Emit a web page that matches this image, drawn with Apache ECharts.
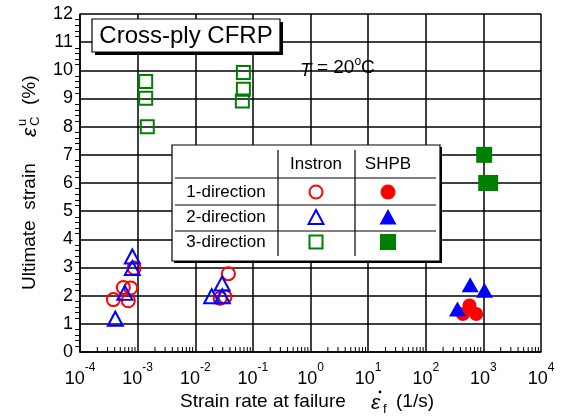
<!DOCTYPE html>
<html>
<head>
<meta charset="utf-8">
<script src="https://cdn.jsdelivr.net/npm/echarts@6/dist/echarts.min.js"></script>
<style>
html, body { margin: 0; padding: 0; background: #fff; }
#chart { width: 564px; height: 418px; }
</style>
</head>
<body>
<div id="chart"></div>
<script>
// Ultimate strain of cross-ply CFRP against strain rate at failure (T = 20 °C)
// Each point: [strain rate (1/s), ultimate strain (%)]
const instron1 = [[3.8e-4, 1.86], [6.9e-4, 1.82], [5.65e-4, 2.29], [7.6e-4, 2.27], [8.7e-4, 2.98],
                  [0.0376, 2.78], [0.027, 1.91], [0.0329, 1.96]];
const instron2 = [[8.1e-4, 3.39], [8.1e-4, 2.98], [6.0e-4, 2.10], [4.1e-4, 1.18],
                  [0.0292, 2.43], [0.0193, 1.98], [0.0295, 1.98]];
const instron3 = [[1.38e-3, 9.6], [1.38e-3, 9.01], [1.47e-3, 8.0],
                  [0.0684, 9.92], [0.0684, 9.33], [0.0657, 8.91]];
const shpb1 = [[574, 1.65], [441, 1.35], [750, 1.35]];
const shpb2 = [[590, 2.39], [1045, 2.19], [355, 1.53]];
const shpb3 = [[1033, 7.0], [1120, 6.0], [1310, 6.0]];

const legendRows = ['1-direction', '2-direction', '3-direction'];
const legendCols = ['Instron', 'SHPB'];

const RED = '#ff0000', BLUE = '#0000ff', GREEN = '#008000';
const FONT = 'Liberation Sans, Arial, sans-serif';

// Log-decade minor tick positions (2..9 x 10^k) along the rate axis
const xMinor = [];
for (let e = -4; e < 4; e++) {
  for (let m = 2; m <= 9; m++) xMinor.push([m * Math.pow(10, e), 0]);
}

function scatter(data, symbol, color, size, filled, z) {
  return {
    type: 'scatter',
    data: data,
    symbol: symbol,
    symbolSize: size,
    z: z,
    itemStyle: filled
      ? { color: color, opacity: 1 }
      : { color: 'rgba(0,0,0,0)', borderColor: color, borderWidth: 2, opacity: 1 },
    emphasis: { disabled: true }
  };
}

const chart = echarts.init(document.getElementById('chart'), null, { renderer: 'canvas' });

// Legend table geometry
const tbl = { x: 172, y: 145, w: 268, h: 116 };
const colX = [316, 388];
const rowY = [192, 217, 242];

const legendGraphics = [
  { type: 'rect', shape: { x: tbl.x + 2, y: tbl.y + 2, width: tbl.w, height: tbl.h },
    style: { fill: '#000' }, z: 100 },
  { type: 'rect', shape: { x: tbl.x, y: tbl.y, width: tbl.w, height: tbl.h },
    style: { fill: '#fff', stroke: '#000', lineWidth: 1.2 }, z: 101 },
  { type: 'line', shape: { x1: 278, y1: 150, x2: 278, y2: 256 }, style: { stroke: '#000', lineWidth: 1.2 }, z: 102 },
  { type: 'line', shape: { x1: 355, y1: 150, x2: 355, y2: 256 }, style: { stroke: '#000', lineWidth: 1.2 }, z: 102 },
  { type: 'line', shape: { x1: 175, y1: 178, x2: 436, y2: 178 }, style: { stroke: '#000', lineWidth: 1.2 }, z: 102 },
  { type: 'line', shape: { x1: 175, y1: 205, x2: 436, y2: 205 }, style: { stroke: '#000', lineWidth: 1.2 }, z: 102 },
  { type: 'line', shape: { x1: 175, y1: 231, x2: 436, y2: 231 }, style: { stroke: '#000', lineWidth: 1.2 }, z: 102 }
];
legendCols.forEach(function (t, i) {
  legendGraphics.push({ type: 'text', x: colX[i], y: 164, z: 103,
    style: { text: t, font: '17px ' + FONT, fill: '#000', align: 'center', verticalAlign: 'middle' } });
});
legendRows.forEach(function (t, i) {
  legendGraphics.push({ type: 'text', x: 226, y: rowY[i], z: 103,
    style: { text: t, font: '17px ' + FONT, fill: '#000', align: 'center', verticalAlign: 'middle' } });
});
// Legend symbols
const r = 6.5;
legendGraphics.push(
  { type: 'circle', shape: { cx: colX[0], cy: rowY[0], r: r }, style: { fill: 'none', stroke: RED, lineWidth: 2 }, z: 103 },
  { type: 'circle', shape: { cx: colX[1], cy: rowY[0], r: r + 1 }, style: { fill: RED }, z: 103 },
  { type: 'polygon', shape: { points: [[colX[0], rowY[1] - 7], [colX[0] + 7.5, rowY[1] + 7], [colX[0] - 7.5, rowY[1] + 7]] },
    style: { fill: 'none', stroke: BLUE, lineWidth: 2 }, z: 103 },
  { type: 'polygon', shape: { points: [[colX[1], rowY[1] - 8], [colX[1] + 8.5, rowY[1] + 7.5], [colX[1] - 8.5, rowY[1] + 7.5]] },
    style: { fill: BLUE }, z: 103 },
  { type: 'rect', shape: { x: colX[0] - 6.5, y: rowY[2] - 6.5, width: 13, height: 13 }, style: { fill: 'none', stroke: GREEN, lineWidth: 2 }, z: 103 },
  { type: 'rect', shape: { x: colX[1] - 8, y: rowY[2] - 8, width: 16, height: 16 }, style: { fill: GREEN }, z: 103 }
);

const option = {
  backgroundColor: '#fff',
  animation: false,
  grid: { left: 80, right: 23, top: 14, bottom: 66, containLabel: false },
  xAxis: {
    type: 'log',
    logBase: 10,
    min: 1e-4,
    max: 1e4,
    interval: 1,
    axisLine: { lineStyle: { color: '#000', width: 1.5 } },
    axisTick: { show: false },
    splitLine: { show: true, lineStyle: { color: '#000', width: 1.5 } },
    axisLabel: {
      margin: 10,
      formatter: function (v) {
        const e = Math.round(Math.log10(v));
        return '{b|10}{s|' + e + '}';
      },
      rich: {
        b: { fontSize: 18, fontFamily: FONT, color: '#000', lineHeight: 26, verticalAlign: 'bottom' },
        s: { fontSize: 12, fontFamily: FONT, color: '#000', lineHeight: 26, verticalAlign: 'top' }
      }
    }
  },
  yAxis: {
    type: 'value',
    min: 0,
    max: 12,
    interval: 1,
    axisLine: { show: true, lineStyle: { color: '#000', width: 1.5 } },
    axisTick: { show: false },
    minorTick: { show: true, splitNumber: 5, length: 5, lineStyle: { color: '#000', width: 1 } },
    splitLine: { show: true, lineStyle: { color: '#000', width: 1.5 } },
    axisLabel: { fontSize: 18, fontFamily: FONT, color: '#000', margin: 7 }
  },
  series: [
    {
      type: 'custom',
      data: xMinor,
      silent: true,
      clip: false,
      z: 1,
      renderItem: function (params, api) {
        const p = api.coord([api.value(0), 0]);
        return { type: 'line', shape: { x1: p[0], y1: p[1], x2: p[0], y2: p[1] - 5 },
                 style: { stroke: '#000', lineWidth: 1 } };
      }
    },
    scatter(instron3, 'rect', GREEN, 13, false, 5),
    scatter(instron1, 'circle', RED, 13, false, 5),
    scatter(instron2, 'triangle', BLUE, [15, 14], false, 6),
    scatter(shpb3, 'rect', GREEN, 16, true, 5),
    scatter(shpb1, 'circle', RED, 14, true, 5),
    scatter(shpb2, 'triangle', BLUE, [17, 15], true, 6)
  ],
  graphic: [
    // Title box with drop shadow
    { type: 'rect', shape: { x: 95, y: 22, width: 188, height: 33 }, style: { fill: '#000' }, z: 100 },
    { type: 'rect', shape: { x: 92, y: 19, width: 188, height: 33 }, style: { fill: '#fff', stroke: '#000', lineWidth: 1.2 }, z: 101 },
    { type: 'text', x: 186, y: 36, z: 102,
      style: { text: 'Cross-ply CFRP', font: '24px ' + FONT, fill: '#000', align: 'center', verticalAlign: 'middle' } },
    // Test temperature
    { type: 'text', x: 300, y: 68, z: 102,
      style: {
        text: '{i|T} = 20{o|o}C',
        font: '19px ' + FONT, fill: '#000', verticalAlign: 'middle',
        rich: {
          i: { fontSize: 19, fontFamily: FONT, fontStyle: 'italic', lineHeight: 24, verticalAlign: 'bottom' },
          o: { fontSize: 12, fontFamily: FONT, lineHeight: 24, verticalAlign: 'top' }
        }
      } },
    // Y axis title (rotated)
    { type: 'group', x: 30, y: 290, rotation: Math.PI / 2, z: 102,
      children: [
        { type: 'text', x: 0, y: 0,
          style: { text: 'Ultimate  strain', font: '19px ' + FONT, fill: '#000', align: 'left', verticalAlign: 'middle' } },
        { type: 'text', x: 153, y: 0,
          style: { text: 'ε', font: 'italic 21px ' + FONT, fill: '#000', align: 'left', verticalAlign: 'middle' } },
        { type: 'text', x: 164, y: -8,
          style: { text: 'u', font: '13px ' + FONT, fill: '#000', align: 'left', verticalAlign: 'middle' } },
        { type: 'text', x: 164, y: 5,
          style: { text: 'C', font: '13px ' + FONT, fill: '#000', align: 'left', verticalAlign: 'middle' } },
        { type: 'text', x: 185, y: 0,
          style: { text: '(%)', font: '19px ' + FONT, fill: '#000', align: 'left', verticalAlign: 'middle' } }
      ] },
    // X axis title
    { type: 'text', x: 180, y: 402, z: 102,
      style: { text: 'Strain rate at failure', font: '19px ' + FONT, fill: '#000', align: 'left', verticalAlign: 'middle' } },
    { type: 'text', x: 371, y: 403, z: 102,
      style: { text: 'ε', font: 'italic 21px ' + FONT, fill: '#000', align: 'left', verticalAlign: 'middle' } },
    { type: 'circle', shape: { cx: 380, cy: 392, r: 1.4 }, style: { fill: '#000' }, z: 102 },
    { type: 'text', x: 383, y: 409, z: 102,
      style: { text: 'f', font: '13px ' + FONT, fill: '#000', align: 'left', verticalAlign: 'middle' } },
    { type: 'text', x: 396, y: 402, z: 102,
      style: { text: '(1/s)', font: '19px ' + FONT, fill: '#000', align: 'left', verticalAlign: 'middle' } }
  ].concat(legendGraphics)
};

chart.setOption(option);
</script>
</body>
</html>
